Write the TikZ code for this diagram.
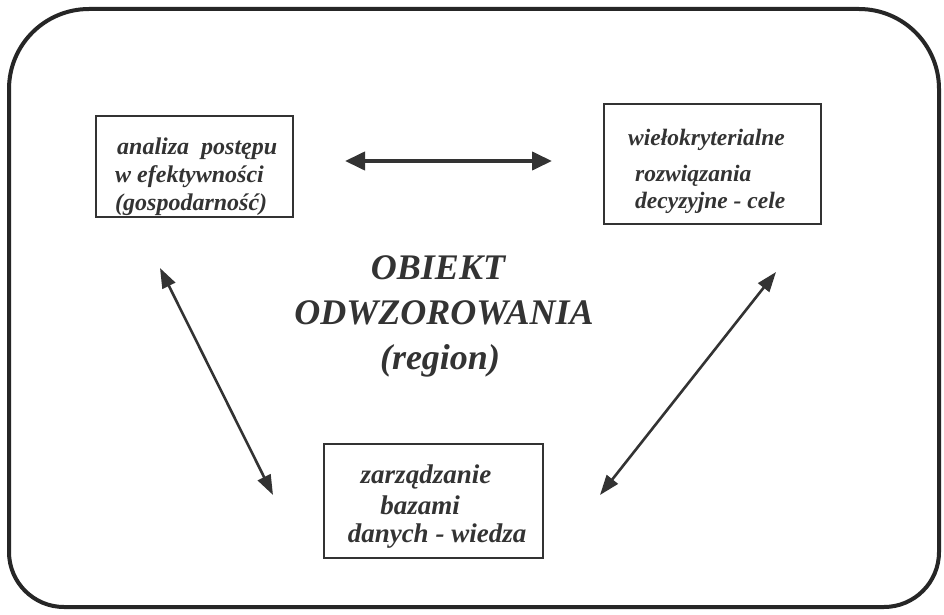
\documentclass[tikz,border=0pt]{standalone}
\usepackage{fontspec}
\setmainfont{Liberation Serif}
\usetikzlibrary{arrows.meta}
\begin{document}
\begin{tikzpicture}[x=1pt,y=-1pt,
  frame/.style={draw=black!85,line width=4pt},
  boxnode/.style={draw=black!80,line width=1.6pt,inner sep=0pt,anchor=north west},
  boxtext/.style={text=black!80,inner sep=0pt},
  txta/.style={boxtext,font=\fontsize{24}{28}\selectfont\bfseries\itshape},
  txtb/.style={boxtext,font=\fontsize{23.5}{28}\selectfont\bfseries\itshape},
  txtc/.style={boxtext,font=\fontsize{27}{30}\selectfont\bfseries\itshape},
  bigarrow/.style={line width=4pt,draw=black!80,{Triangle[length=20pt,width=18pt]}-{Triangle[length=20pt,width=18pt]}},
  diagarrow/.style={line width=2.6pt,draw=black!80,{Triangle[length=20pt,width=14pt]}-{Triangle[length=20pt,width=14pt]}},
  centertext/.style={font=\fontsize{36}{44}\selectfont\bfseries\itshape,text=black!80,inner sep=0pt}]
\useasboundingbox (0,0) rectangle (944,615);
\fill[white] (0,0) rectangle (944,615);
\draw[frame] (9,89) [rounded corners=80pt] -- (9,9) -- (939,9) [rounded corners=55pt] -- (939,607) -- (9,607) [rounded corners=0pt] -- cycle;
% boxes
\node[boxnode,minimum width=197pt,minimum height=101pt] (a) at (95,115) {};
\node[boxnode,minimum width=217pt,minimum height=120pt] (b) at (603,103) {};
\node[boxnode,minimum width=219pt,minimum height=114pt] (c) at (323,443) {};
% box texts
\node[txta,anchor=base west] (a1) at (117,154) {analiza\ \ postępu};
\node[txta,anchor=base west] (a2) at (115,182) {w efektywności};
\node[txta,anchor=base west] (a3) at (115,210) {(gospodarność)};
\node[txtb,anchor=base west] (b1) at (628,145) {wiełokryterialne};
\node[txtb,anchor=base west] (b2) at (635,181) {rozwiązania};
\node[txtb,anchor=base west] (b3) at (635,208) {decyzyjne - cele};
\node[txtc,anchor=base] (c1) at (426,483) {zarządzanie};
\node[txtc,anchor=base] (c2) at (420,514) {bazami};
\node[txtc,anchor=base] (c3) at (437,542) {danych - wiedza};
% center text
\node[centertext,anchor=base] (t1) at (438,279) {OBIEKT};
\node[centertext,anchor=base] (t2) at (444,324) {ODWZOROWANIA};
\node[centertext,anchor=base] (t3) at (440,369) {(region)};
% connectors
\coordinate (p1) at (345,161);
\coordinate (p2) at (552,161);
\coordinate (l1) at (160,268);
\coordinate (l2) at (273,495);
\coordinate (r1) at (776,272);
\coordinate (r2) at (600,495);
\draw[bigarrow] (p1) -- (p2);
\draw[diagarrow] (l1) -- (l2);
\draw[diagarrow] (r1) -- (r2);
\end{tikzpicture}
\end{document}
